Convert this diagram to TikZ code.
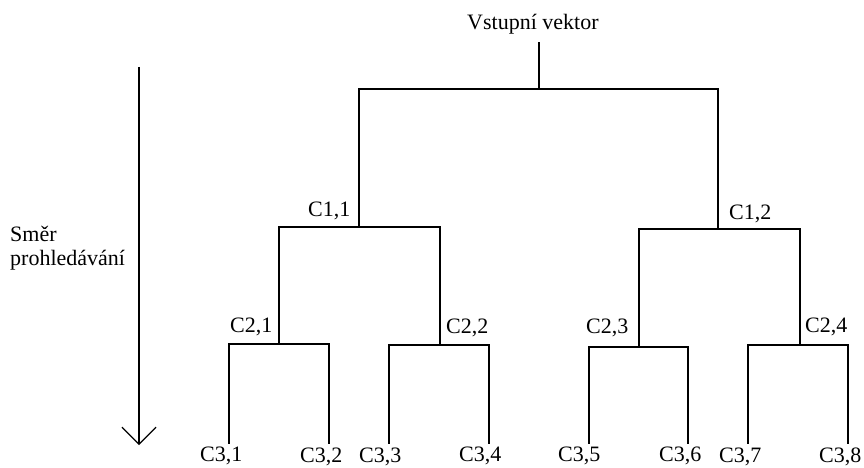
\documentclass[tikz,border=0pt]{standalone}
\usepackage{fontspec}
\setmainfont{Liberation Serif}
\usetikzlibrary{arrows.meta}
\begin{document}
\begin{tikzpicture}[x=1pt,y=-1pt,
  lbl/.style={inner sep=0pt,anchor=base west,font=\fontsize{22}{24}\selectfont},
  branch/.style={line width=1.6pt,line cap=rect},
  dirarrow/.style={line width=1.2pt,-{Straight Barb[length=17pt,width=34pt,line width=1.2pt]}}]
\useasboundingbox (0,0) rectangle (864,468);

% input and search direction
\node[lbl] (vin) at (467,30) {Vstupní vektor};
\node[lbl] (dir1) at (10,241) {Směr};
\node[lbl] (dir2) at (10,265) {prohledávání};
\coordinate (atop) at (139,67);
\coordinate (abot) at (139,445);
\draw[dirarrow] (atop) -- (abot);

% root bar
\coordinate (r0) at (539,43);
\coordinate (r)  at (539,89);
\coordinate (rL) at (359,89);
\coordinate (rR) at (718,89);
\draw[branch] (r0) -- (r);
\draw[branch] (rL) -- (rR);

% level 1 junctions
\coordinate (c11) at (359,227);
\coordinate (c12) at (718,229);
\draw[branch] (rL) -- (c11);
\draw[branch] (rR) -- (c12);
\node[lbl] (t11) at (308,216) {C1,1};
\node[lbl] (t12) at (729,219) {C1,2};

% level 1 bars and level 2 junctions
\coordinate (b11L) at (279,227);
\coordinate (b11R) at (440,227);
\coordinate (b12L) at (639,229);
\coordinate (b12R) at (800,229);
\coordinate (c21) at (279,344);
\coordinate (c22) at (440,345);
\coordinate (c23) at (639,347);
\coordinate (c24) at (800,345);
\draw[branch] (c21) -- (b11L) -- (b11R) -- (c22);
\draw[branch] (c23) -- (b12L) -- (b12R) -- (c24);
\node[lbl] (t21) at (230,332) {C2,1};
\node[lbl] (t22) at (446,333) {C2,2};
\node[lbl] (t23) at (586,333) {C2,3};
\node[lbl] (t24) at (805,332) {C2,4};

% level 2 bars and leaves
\coordinate (b21L) at (229,344); \coordinate (b21R) at (329,344);
\coordinate (b22L) at (389,345); \coordinate (b22R) at (489,345);
\coordinate (b23L) at (589,347); \coordinate (b23R) at (688,347);
\coordinate (b24L) at (748,345); \coordinate (b24R) at (848,345);
\coordinate (l1) at (229,443); \coordinate (l2) at (329,443);
\coordinate (l3) at (389,443); \coordinate (l4) at (489,443);
\coordinate (l5) at (589,443); \coordinate (l6) at (688,443);
\coordinate (l7) at (748,443); \coordinate (l8) at (848,443);
\draw[branch] (l1) -- (b21L) -- (b21R) -- (l2);
\draw[branch] (l3) -- (b22L) -- (b22R) -- (l4);
\draw[branch] (l5) -- (b23L) -- (b23R) -- (l6);
\draw[branch] (l7) -- (b24L) -- (b24R) -- (l8);

\node[lbl] (t31) at (200,461) {C3,1};
\node[lbl] (t32) at (300,462) {C3,2};
\node[lbl] (t33) at (359,462) {C3,3};
\node[lbl] (t34) at (459,461) {C3,4};
\node[lbl] (t35) at (558,461) {C3,5};
\node[lbl] (t36) at (659,461) {C3,6};
\node[lbl] (t37) at (719,462) {C3,7};
\node[lbl] (t38) at (819,462) {C3,8};
\end{tikzpicture}
\end{document}
